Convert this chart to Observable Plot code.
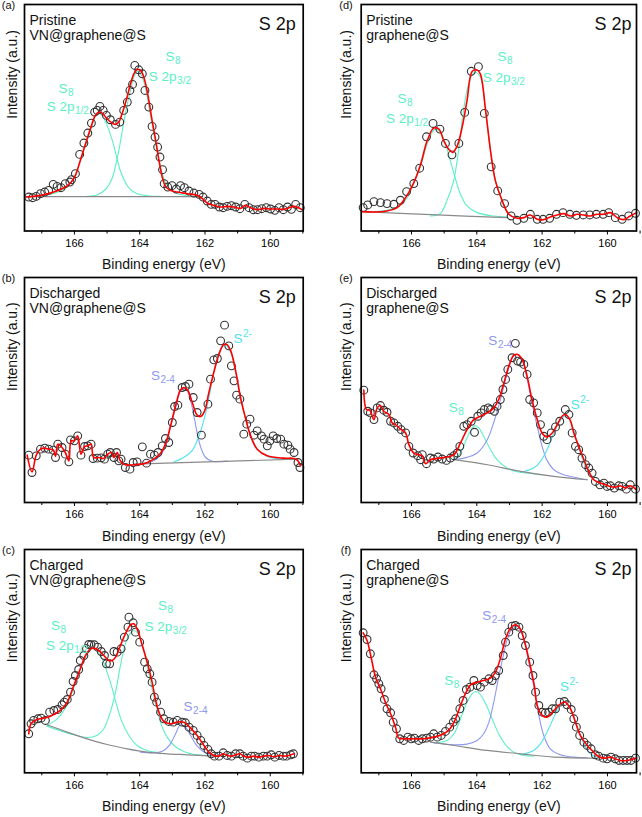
<!DOCTYPE html>
<html>
<head>
<meta charset="utf-8">
<script src="https://cdn.jsdelivr.net/npm/d3@7"></script>
<script src="https://cdn.jsdelivr.net/npm/@observablehq/plot@0.6"></script>
<style>
  html, body { margin: 0; padding: 0; background: #ffffff; }
  #fig { position: relative; width: 642px; height: 817px; background: #ffffff; overflow: hidden; }
  #fig > svg { position: absolute; }
</style>
</head>
<body>
<div id="fig"></div>
<script>
// ---------- axis ticks ----------
const majorTicks = [166, 164, 162, 160];
const minorTicks = [167, 165, 163, 161, 159];

// ---------- panel texts ----------
const panelLetters = ["(a)", "(b)", "(c)", "(d)", "(e)", "(f)"];
const panelStates = ["Pristine", "Discharged", "Charged", "Pristine", "Discharged", "Charged"];
const panelSamples = ["VN@graphene@S", "VN@graphene@S", "VN@graphene@S", "graphene@S", "graphene@S", "graphene@S"];
const panelTitle = "S 2p";
const xTitle = "Binding energy (eV)";
const yTitle = "Intensity (a.u.)";

// ---------- (a) Pristine VN@graphene@S : [eV, intensity] ----------
const aPts = [[167.40,102],[167.28,100],[167.17,104],[167.04,112],[166.91,117],[166.79,122],[166.65,140],[166.53,134],[166.41,130],[166.28,142],[166.14,147],[166.09,154],[165.97,172],[165.84,230],[165.71,264],[165.59,294],[165.48,324],[165.38,357],[165.30,362],[165.22,374],[165.12,362],[165.02,347],[164.90,334],[164.74,320],[164.61,327],[164.49,362],[164.38,387],[164.30,422],[164.22,440],[164.15,497],[164.03,484],[163.92,472],[163.84,422],[163.72,372],[163.62,314],[163.53,282],[163.45,252],[163.38,222],[163.30,184],[163.25,142],[163.14,132],[163.01,136],[162.88,126],[162.75,136],[162.63,130],[162.49,120],[162.34,114],[162.18,110],[162.06,102],[161.93,90],[161.81,80],[161.69,80],[161.56,72],[161.44,70],[161.32,74],[161.19,76],[161.06,72],[160.93,67],[160.78,80],[160.65,70],[160.52,64],[160.39,64],[160.26,67],[160.12,70],[159.99,66],[159.86,62],[159.73,70],[159.60,64],[159.47,72],[159.35,65],[159.22,80],[159.08,70]];
const aFit = [[167.47,102],[167.25,104],[166.94,109],[166.63,117],[166.33,129],[166.12,144],[165.97,167],[165.82,212],[165.66,262],[165.51,307],[165.36,347],[165.25,357],[165.15,354],[165.00,337],[164.84,324],[164.74,320],[164.64,327],[164.54,352],[164.40,397],[164.28,442],[164.18,472],[164.08,485],[164.00,484],[163.92,474],[163.82,442],[163.72,392],[163.62,332],[163.51,272],[163.41,212],[163.31,162],[163.21,134],[163.06,122],[162.85,117],[162.54,112],[162.24,107],[162.08,97],[161.93,84],[161.73,77],[161.52,72],[161.32,74],[161.11,72],[160.91,68],[160.76,77],[160.60,70],[160.39,64],[160.19,68],[159.99,66],[159.78,66],[159.58,65],[159.42,70],[159.27,74],[159.02,64]];
const aBg = [[167.50,103],[162.10,103]];
const aS8half = [[167.25,104],[166.74,110],[166.43,120],[166.22,134],[166.02,160],[165.82,210],[165.66,257],[165.51,300],[165.39,337],[165.28,355],[165.15,347],[165.00,317],[164.84,272],[164.71,224],[164.59,180],[164.43,144],[164.28,124],[164.08,112],[163.77,106],[163.36,104]];
const aS8three = [[165.60,104],[165.31,108],[165.15,117],[165.01,129],[164.85,157],[164.65,237],[164.45,347],[164.28,424],[164.16,467],[164.06,480],[163.96,470],[163.85,440],[163.67,347],[163.46,237],[163.26,157],[163.11,129],[162.90,114],[162.54,106],[162.13,104]];

// ---------- (b) Discharged VN@graphene@S ----------
const bPts = [[167.40,142],[167.30,90],[167.17,140],[167.04,160],[166.91,163],[166.79,160],[166.65,157],[166.58,135],[166.51,175],[166.38,165],[166.28,145],[166.17,122],[166.12,188],[166.00,185],[165.90,200],[165.80,142],[165.69,168],[165.59,170],[165.49,175],[165.43,132],[165.30,133],[165.18,134],[165.08,130],[164.98,145],[164.90,150],[164.79,135],[164.71,150],[164.64,125],[164.57,130],[164.44,105],[164.30,100],[164.20,120],[164.08,122],[163.92,167],[163.79,118],[163.67,145],[163.55,142],[163.44,150],[163.31,170],[163.21,192],[163.11,180],[163.00,240],[162.93,288],[162.83,292],[162.70,345],[162.60,348],[162.49,355],[162.36,315],[162.24,270],[162.11,202],[161.91,295],[161.83,370],[161.73,428],[161.62,432],[161.52,485],[161.40,532],[161.27,470],[161.19,410],[161.11,365],[161.03,322],[160.93,310],[160.81,205],[160.72,235],[160.62,250],[160.50,202],[160.40,215],[160.27,200],[160.19,190],[160.09,170],[160.01,185],[159.91,200],[159.80,192],[159.68,190],[159.58,175],[159.46,172],[159.39,160],[159.27,150],[159.15,120],[159.09,105]];
const bFit = [[167.45,142],[167.30,92],[167.17,142],[167.04,160],[166.91,163],[166.79,160],[166.65,158],[166.58,138],[166.51,175],[166.38,165],[166.28,150],[166.17,125],[166.10,185],[166.00,185],[165.90,200],[165.80,145],[165.69,168],[165.59,170],[165.49,175],[165.41,135],[165.25,135],[165.10,132],[164.98,145],[164.87,150],[164.79,135],[164.69,150],[164.61,128],[164.49,115],[164.38,112],[164.08,114],[163.87,116],[163.57,130],[163.36,148],[163.21,175],[163.06,228],[162.90,290],[162.75,338],[162.65,345],[162.52,335],[162.39,300],[162.24,262],[162.13,258],[162.01,275],[161.88,330],[161.73,390],[161.57,445],[161.44,472],[161.34,475],[161.21,455],[161.06,395],[160.91,315],[160.75,250],[160.60,200],[160.40,160],[160.09,140],[159.58,133],[159.27,132],[159.15,125],[159.07,110]];
const bBg = [[164.20,115],[159.17,130]];
const bS24 = [[163.87,118],[163.57,125],[163.36,142],[163.21,170],[163.06,225],[162.90,285],[162.77,330],[162.67,342],[162.56,336],[162.44,305],[162.32,250],[162.22,200],[162.11,160],[161.98,135],[161.78,124],[161.32,124]];
const bS2 = [[162.95,122],[162.71,132],[162.40,155],[162.20,195],[162.04,245],[161.89,308],[161.74,388],[161.58,448],[161.40,475],[161.21,450],[161.06,390],[160.91,310],[160.75,250],[160.60,200],[160.40,160],[160.09,138],[159.68,130],[159.27,129]];

// ---------- (c) Charged VN@graphene@S ----------
const cPts = [[167.40,117],[167.33,147],[167.25,157],[167.12,162],[167.02,164],[166.89,157],[166.76,182],[166.63,187],[166.51,190],[166.38,204],[166.31,212],[166.22,220],[166.12,242],[166.04,274],[165.97,292],[165.87,310],[165.82,337],[165.71,352],[165.63,372],[165.56,385],[165.49,384],[165.39,384],[165.29,377],[165.18,364],[165.08,352],[165.02,327],[164.92,327],[164.79,364],[164.69,362],[164.57,372],[164.47,407],[164.36,437],[164.33,467],[164.20,450],[164.13,422],[164.00,392],[163.85,332],[163.77,312],[163.69,297],[163.62,272],[163.55,227],[163.48,212],[163.36,182],[163.26,162],[163.11,154],[162.97,152],[162.85,157],[162.70,152],[162.60,150],[162.49,137],[162.36,127],[162.24,112],[162.13,97],[162.03,82],[161.91,70],[161.81,57],[161.71,50],[161.57,50],[161.44,60],[161.32,52],[161.19,50],[161.06,57],[160.93,57],[160.83,50],[160.70,44],[160.58,50],[160.48,50],[160.35,47],[160.21,50],[160.09,50],[159.97,54],[159.86,47],[159.73,52],[159.60,50],[159.50,50],[159.37,54],[159.29,57]];
const cFit = [[167.40,117],[167.33,147],[167.15,160],[166.94,164],[166.74,170],[166.43,187],[166.22,212],[166.02,262],[165.82,312],[165.66,352],[165.51,372],[165.41,374],[165.25,367],[165.10,352],[164.95,337],[164.84,337],[164.74,347],[164.59,382],[164.44,417],[164.28,444],[164.18,447],[164.08,432],[163.92,382],[163.77,332],[163.62,272],[163.52,222],[163.41,182],[163.26,154],[163.06,147],[162.85,152],[162.65,152],[162.44,134],[162.24,112],[162.03,82],[161.88,62],[161.73,52],[161.57,50],[161.44,57],[161.32,52],[161.19,50],[161.06,54],[160.93,57],[160.81,50],[160.65,47],[160.50,50],[160.35,47],[160.19,50],[160.04,52],[159.89,48],[159.73,52],[159.58,50],[159.43,52],[159.27,57]];
const cBg = [[166.84,144],[166.22,122],[165.61,102],[165.00,85],[164.38,72],[163.77,62],[163.16,57],[162.54,54],[161.73,50]];
const cS8half = [[166.84,142],[166.53,162],[166.28,194],[166.07,242],[165.87,297],[165.66,347],[165.46,374],[165.31,366],[165.15,342],[165.00,302],[164.84,252],[164.69,197],[164.54,152],[164.33,112],[164.08,82],[163.77,67],[163.36,60]];
const cS8three = [[166.84,140],[166.43,126],[166.02,114],[165.61,106],[165.31,112],[165.10,132],[164.90,182],[164.74,242],[164.59,322],[164.44,387],[164.28,420],[164.18,427],[164.06,420],[163.92,382],[163.77,322],[163.62,252],[163.46,187],[163.31,137],[163.16,107],[162.95,82],[162.65,64],[162.24,54],[161.83,52]];
const cS24 = [[163.98,62],[163.57,60],[163.26,67],[163.06,87],[162.90,117],[162.75,144],[162.60,137],[162.44,112],[162.29,87],[162.13,70],[161.93,57],[161.62,52]];

// ---------- (d) Pristine graphene@S ----------
const dPts = [[167.48,70],[167.34,78],[167.15,88],[166.95,85],[166.75,82],[166.54,80],[166.34,92],[166.15,118],[165.93,142],[165.75,188],[165.54,282],[165.34,322],[165.13,305],[164.96,262],[164.76,228],[164.55,262],[164.37,355],[164.17,478],[163.95,492],[163.77,352],[163.56,192],[163.36,120],[163.15,82],[162.95,45],[162.77,32],[162.56,38],[162.36,50],[162.15,35],[161.97,35],[161.77,38],[161.56,50],[161.36,55],[161.15,50],[160.95,47],[160.74,48],[160.54,48],[160.34,50],[160.13,50],[159.96,55],[159.76,40],[159.55,35],[159.35,45],[159.14,53]];
const dFit = [[167.51,58],[167.15,57],[166.75,60],[166.44,70],[166.18,100],[165.93,145],[165.72,200],[165.52,270],[165.32,308],[165.16,305],[165.01,270],[164.86,245],[164.74,235],[164.60,255],[164.45,310],[164.30,390],[164.14,478],[163.99,482],[163.89,470],[163.73,360],[163.58,240],[163.43,150],[163.22,90],[163.02,50],[162.77,38],[162.56,40],[162.36,48],[162.15,35],[161.95,34],[161.75,42],[161.54,48],[161.34,52],[161.13,45],[160.93,50],[160.72,48],[160.52,45],[160.32,50],[160.11,50],[159.91,55],[159.70,40],[159.50,34],[159.30,45],[159.11,55]];
const dBg = [[167.51,58],[165.21,48],[163.07,40]];
const dS8half = [[167.51,58],[166.75,62],[166.34,78],[166.13,100],[165.93,142],[165.72,195],[165.52,260],[165.37,295],[165.27,305],[165.11,295],[164.96,260],[164.81,210],[164.65,155],[164.50,110],[164.30,75],[163.99,55],[163.48,45],[163.07,42]];
const dS8three = [[165.42,45],[165.12,52],[164.92,90],[164.71,150],[164.56,240],[164.41,360],[164.25,440],[164.07,475],[163.91,465],[163.73,360],[163.58,240],[163.43,150],[163.22,90],[163.02,50],[162.77,40]];

// ---------- (e) Discharged graphene@S ----------
const ePts = [[167.46,336],[167.34,273],[167.26,268],[167.15,248],[167.05,283],[166.95,290],[166.85,276],[166.75,270],[166.64,243],[166.54,238],[166.42,228],[166.32,218],[166.18,208],[166.08,168],[165.95,148],[165.81,140],[165.72,128],[165.67,143],[165.54,116],[165.42,133],[165.32,130],[165.19,136],[165.06,130],[164.93,126],[164.81,133],[164.70,140],[164.60,148],[164.52,168],[164.40,228],[164.30,233],[164.17,243],[164.07,210],[163.97,258],[163.87,268],[163.77,278],[163.65,283],[163.58,278],[163.46,273],[163.38,288],[163.28,308],[163.20,338],[163.12,368],[163.05,398],[162.92,433],[162.82,476],[162.75,423],[162.66,420],[162.56,413],[162.46,383],[162.38,308],[162.26,298],[162.15,268],[162.05,233],[161.95,198],[161.85,188],[161.72,208],[161.59,226],[161.46,243],[161.29,278],[161.18,263],[161.08,208],[160.98,168],[160.88,158],[160.78,133],[160.67,113],[160.57,103],[160.47,88],[160.37,63],[160.23,53],[160.11,58],[160.01,48],[159.91,50],[159.79,43],[159.65,50],[159.55,48],[159.42,40],[159.30,53],[159.14,40]];
const eFit = [[167.46,336],[167.38,278],[167.28,276],[167.15,248],[167.05,283],[166.95,290],[166.85,273],[166.69,263],[166.59,238],[166.49,233],[166.34,220],[166.18,208],[166.08,173],[165.93,148],[165.78,143],[165.67,140],[165.57,116],[165.42,128],[165.21,132],[164.91,136],[164.70,143],[164.50,178],[164.30,218],[164.09,248],[163.89,258],[163.68,268],[163.48,283],[163.33,308],[163.17,358],[163.02,408],[162.87,440],[162.75,443],[162.61,428],[162.46,378],[162.31,308],[162.15,248],[162.00,208],[161.85,196],[161.69,208],[161.54,233],[161.39,258],[161.29,263],[161.15,248],[161.03,208],[160.88,168],[160.72,128],[160.57,93],[160.42,68],[160.22,58],[160.06,53],[159.91,48],[159.76,46],[159.60,50],[159.45,43],[159.30,50],[159.14,40]];
const eBg = [[164.70,128],[163.68,113],[162.66,93],[161.64,78],[160.62,68]];
const eS8 = [[164.70,128],[164.50,148],[164.30,193],[164.14,223],[164.06,230],[163.94,223],[163.79,198],[163.58,158],[163.38,128],[163.07,103],[162.77,92],[162.46,88],[162.05,83]];
const eS24 = [[164.70,128],[164.30,135],[163.99,148],[163.68,188],[163.48,240],[163.33,288],[163.17,348],[163.02,403],[162.89,436],[162.77,443],[162.61,426],[162.46,370],[162.31,298],[162.15,228],[162.00,168],[161.85,126],[161.64,98],[161.34,83],[160.93,74],[160.62,68]];
const eS2 = [[162.66,90],[162.26,103],[162.05,123],[161.85,158],[161.64,208],[161.49,238],[161.29,260],[161.13,243],[160.98,198],[160.83,148],[160.67,108],[160.52,83],[160.32,73]];

// ---------- (f) Charged graphene@S ----------
const fPts = [[167.48,420],[167.36,400],[167.26,357],[167.15,294],[167.07,282],[167.00,267],[166.93,252],[166.83,220],[166.75,192],[166.64,180],[166.56,152],[166.46,132],[166.36,102],[166.24,97],[166.11,107],[166.01,102],[165.91,104],[165.78,97],[165.67,102],[165.54,104],[165.42,107],[165.32,117],[165.21,107],[165.09,112],[164.96,124],[164.83,137],[164.72,152],[164.65,162],[164.52,192],[164.42,217],[164.32,250],[164.21,257],[164.09,277],[163.99,262],[163.89,257],[163.77,272],[163.63,282],[163.53,277],[163.43,292],[163.33,307],[163.19,352],[163.12,392],[163.02,422],[162.92,440],[162.82,442],[162.71,437],[162.61,412],[162.51,382],[162.38,332],[162.28,292],[162.20,242],[162.10,202],[162.00,182],[161.90,180],[161.80,182],[161.69,192],[161.59,192],[161.46,212],[161.32,214],[161.24,204],[161.11,190],[161.03,162],[160.95,137],[160.85,112],[160.72,92],[160.62,82],[160.50,72],[160.37,54],[160.27,50],[160.13,44],[160.01,42],[159.89,47],[159.76,42],[159.65,37],[159.52,37],[159.40,37],[159.28,37],[159.14,44]];
const fFit = [[167.48,420],[167.36,397],[167.26,357],[167.10,287],[166.95,252],[166.80,212],[166.64,177],[166.49,137],[166.39,104],[166.24,102],[165.93,102],[165.62,102],[165.32,107],[165.01,117],[164.81,134],[164.65,162],[164.50,202],[164.35,237],[164.19,264],[163.99,272],[163.79,277],[163.58,284],[163.43,302],[163.28,342],[163.12,402],[162.97,434],[162.82,444],[162.68,434],[162.56,402],[162.41,342],[162.24,262],[162.15,202],[162.00,172],[161.85,167],[161.64,187],[161.44,207],[161.29,212],[161.13,192],[160.98,152],[160.83,112],[160.62,82],[160.47,67],[160.32,52],[160.11,44],[159.91,47],[159.76,42],[159.60,37],[159.40,37],[159.14,44]];
const fBg = [[165.42,92],[164.70,82],[163.68,67],[162.66,57],[161.64,47],[160.42,44]];
const fS8 = [[165.32,90],[164.91,97],[164.70,117],[164.50,162],[164.30,212],[164.14,237],[164.04,244],[163.91,237],[163.73,207],[163.53,162],[163.33,117],[163.12,84],[162.87,62],[162.56,52],[162.26,50]];
const fS24 = [[165.32,90],[164.70,84],[164.30,86],[163.99,97],[163.79,117],[163.63,152],[163.48,212],[163.36,272],[163.22,337],[163.07,400],[162.92,434],[162.82,442],[162.68,432],[162.54,392],[162.41,332],[162.24,252],[162.10,172],[161.95,112],[161.75,72],[161.44,54],[161.03,47],[160.62,45]];
const fS2 = [[162.66,54],[162.26,67],[162.05,87],[161.85,122],[161.64,167],[161.49,197],[161.31,212],[161.13,192],[160.98,152],[160.83,112],[160.67,77],[160.52,57],[160.32,47]];

// ---------- peak annotations (anchor in eV / intensity) ----------
const aLabels = [
  {x:166.21, y:427, main:"S", sub:"8", kind:"S8"},
  {x:166.00, y:374, main:"S 2p", sub:"1/2", kind:"S8"},
  {x:162.93, y:522, main:"S", sub:"8", kind:"S8"},
  {x:162.87, y:462, main:"S 2p", sub:"3/2", kind:"S8"}
];
const bLabels = [
  {x:163.38, y:380, main:"S", sub:"2-4", kind:"S24"},
  {x:160.85, y:490, main:"S", sup:"2-", kind:"S2"}
];
const cLabels = [
  {x:166.44, y:442, main:"S", sub:"8", kind:"S8"},
  {x:166.02, y:382, main:"S 2p", sub:"1/2", kind:"S8"},
  {x:163.16, y:500, main:"S", sub:"8", kind:"S8"},
  {x:163.00, y:437, main:"S 2p", sub:"3/2", kind:"S8"},
  {x:162.38, y:197, main:"S", sub:"2-4", kind:"S24"}
];
const dLabels = [
  {x:166.15, y:395, main:"S", sub:"8", kind:"S8"},
  {x:165.93, y:335, main:"S 2p", sub:"1/2", kind:"S8"},
  {x:163.09, y:522, main:"S", sub:"8", kind:"S8"},
  {x:162.97, y:460, main:"S 2p", sub:"3/2", kind:"S8"}
];
const eLabels = [
  {x:163.37, y:483, main:"S", sub:"2-4", kind:"S24"},
  {x:164.58, y:283, main:"S", sub:"8", kind:"S8"},
  {x:160.85, y:293, main:"S", sup:"2-", kind:"S2"}
];
const fLabels = [
  {x:163.56, y:472, main:"S", sub:"2-4", kind:"S24"},
  {x:164.72, y:277, main:"S", sub:"8", kind:"S8"},
  {x:161.18, y:257, main:"S", sup:"2-", kind:"S2"}
];

// ---------- styling ----------
const COLORS = {S8: "#5cefc6", S24: "#8d98f2", S2: "#4fe3ee", fit: "#ff0000", bg: "#8a8a8a", pts: "#333333"};
const FONT = "'Liberation Sans', Arial, Helvetica, sans-serif";

const panels = [
  {col:0, row:0, pts:aPts, fit:aFit, bg:aBg, ymax:680, comps:[{d:aS8half,k:"S8"},{d:aS8three,k:"S8"}], labels:aLabels},
  {col:0, row:1, pts:bPts, fit:bFit, bg:bBg, ymax:675, comps:[{d:bS24,k:"S24"},{d:bS2,k:"S2"}], labels:bLabels},
  {col:0, row:2, pts:cPts, fit:cFit, bg:cBg, ymax:670, comps:[{d:cS8half,k:"S8"},{d:cS8three,k:"S8"},{d:cS24,k:"S24"}], labels:cLabels},
  {col:1, row:0, pts:dPts, fit:dFit, bg:dBg, ymax:678, comps:[{d:dS8half,k:"S8"},{d:dS8three,k:"S8"}], labels:dLabels},
  {col:1, row:1, pts:ePts, fit:eFit, bg:eBg, ymax:673, comps:[{d:eS8,k:"S8"},{d:eS24,k:"S24"},{d:eS2,k:"S2"}], labels:eLabels},
  {col:1, row:2, pts:fPts, fit:fFit, bg:fBg, ymax:670, comps:[{d:fS8,k:"S8"},{d:fS24,k:"S24"},{d:fS2,k:"S2"}], labels:fLabels}
];

const rowTop = [0, 272, 545];
const rowMarginTop = [4, 5, 4];
const rowFrameH = [226.5, 225, 223.3];

const E = d => d[0], I = d => d[1];
const fig = document.getElementById("fig");

panels.forEach((p, idx) => {
  const L = p.col === 0;
  const width = L ? 320 : 322;
  const height = 272;
  const mt = rowMarginTop[p.row];
  const mb = height - mt - rowFrameH[p.row];
  const ml = L ? 24 : 40.7;
  const mr = L ? 17.3 : 6;
  const xdom = L ? [167.53, 158.99] : [167.54, 159.11];

  const marks = [];
  p.comps.forEach(c => marks.push(Plot.line(c.d, {x:E, y:I, stroke:COLORS[c.k], strokeWidth:1.1, curve:"catmull-rom"})));
  marks.push(Plot.line(p.bg, {x:E, y:I, stroke:COLORS.bg, strokeWidth:1.2, curve:"catmull-rom"}));
  marks.push(Plot.dot(p.pts, {x:E, y:I, r:3.9, stroke:COLORS.pts, strokeWidth:1.1, fill:"none"}));
  marks.push(Plot.line(p.fit, {x:E, y:I, stroke:COLORS.fit, strokeWidth:1.6, curve:"catmull-rom"}));

  p.labels.forEach(lab => {
    const col = COLORS[lab.kind];
    marks.push(Plot.text([lab], {x:"x", y:"y", text:"main", textAnchor:"end", lineAnchor:"middle", fill:col, fontSize:13.5}));
    if (lab.sub) marks.push(Plot.text([lab], {x:"x", y:"y", text:"sub", textAnchor:"start", lineAnchor:"middle", fill:col, fontSize:10, dx:0.5, dy:4}));
    if (lab.sup) marks.push(Plot.text([lab], {x:"x", y:"y", text:"sup", textAnchor:"start", lineAnchor:"middle", fill:col, fontSize:10, dx:0.5, dy:-5}));
  });

  marks.push(Plot.frame({stroke:"#000", strokeWidth:1.7}));
  marks.push(Plot.axisX(majorTicks, {anchor:"bottom", tickSize:4, tickPadding:4, fontSize:11, label:null, stroke:"#000", fill:"#000"}));
  marks.push(Plot.axisX(minorTicks, {anchor:"bottom", tickSize:3, tickFormat:() => "", label:null, stroke:"#000"}));

  marks.push(Plot.text([xTitle], {frameAnchor:"bottom", text:d => d, dy:34, lineAnchor:"middle", fontSize:14, fill:"#111"}));
  marks.push(Plot.text([yTitle], {frameAnchor:"left", text:d => d, rotate:-90, dx:L ? -12.3 : -14.3, dy:1, lineAnchor:"middle", fontSize:14, fill:"#111"}));
  marks.push(Plot.text([panelLetters[idx]], {frameAnchor:"top-left", text:d => d, dx:L ? -16 : -15.2, dy:1, textAnchor:"middle", lineAnchor:"middle", fontSize:11, fill:"#111"}));
  marks.push(Plot.text([panelStates[idx]], {frameAnchor:"top-left", text:d => d, dx:5, dy:16, textAnchor:"start", lineAnchor:"middle", fontSize:14, fill:"#111"}));
  marks.push(Plot.text([panelSamples[idx]], {frameAnchor:"top-left", text:d => d, dx:5, dy:31, textAnchor:"start", lineAnchor:"middle", fontSize:14, fill:"#111"}));
  marks.push(Plot.text([panelTitle], {frameAnchor:"top-right", text:d => d, dx:L ? -7.5 : -5, dy:20, textAnchor:"end", lineAnchor:"middle", fontSize:18, fill:"#111"}));

  const svg = Plot.plot({
    width, height,
    marginTop: mt, marginBottom: mb, marginLeft: ml, marginRight: mr,
    x: {domain: xdom},
    y: {domain: [0, p.ymax], axis: null},
    style: {fontFamily: FONT, fontSize: "11px", background: "transparent", overflow: "visible", color: "#000"},
    marks
  });
  svg.style.left = (L ? 0 : 320) + "px";
  svg.style.top = rowTop[p.row] + "px";
  fig.appendChild(svg);
});
</script>
</body>
</html>
